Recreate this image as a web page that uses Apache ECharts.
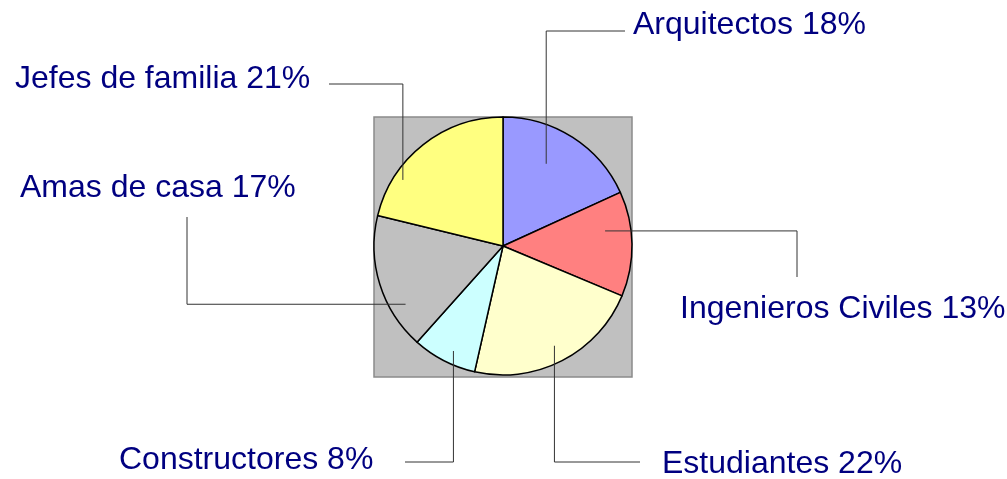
<!DOCTYPE html>
<html>
<head>
<meta charset="utf-8">
<script src="https://cdn.jsdelivr.net/npm/echarts@6/dist/echarts.min.js"></script>
<style>
  html, body { margin: 0; padding: 0; background: #ffffff; }
  #chart { width: 1007px; height: 479px; }
</style>
</head>
<body>
<div id="chart"></div>
<script>
// ---- data ----
const categories = ['Arquitectos', 'Ingenieros Civiles', 'Estudiantes', 'Constructores', 'Amas de casa', 'Jefes de familia'];
const percents   = [18, 13, 22, 8, 17, 21];
const sliceColors = ['#9999FF', '#FF8080', '#FFFFCC', '#CCFFFF', '#C0C0C0', '#FFFF80'];

// ---- layout (label boxes and leader lines) ----
const CX = 503, CY = 246, R = 129;
// label left x, label middle y, leader end point, first-segment direction,
// leader anchor angle shift (deg, clockwise) and radius ratio
const labelLayoutCfg = [
  { x: 633, y: 25,  ex: 625, ey: 31,  dir: 'v', shift: -5,   k: 0.72 },
  { x: 680, y: 309, ex: 797, ey: 277, dir: 'h', shift: -7.5, k: 0.80 },
  { x: 662, y: 464, ex: 640, ey: 462, dir: 'v', shift: 0,    k: 0.87 },
  { x: 119, y: 460, ex: 405, ey: 462, dir: 'v', shift: -2,   k: 0.90 },
  { x: 20,  y: 188, ex: 187, ey: 217, dir: 'h', shift: -13.6,k: 0.88 },
  { x: 15,  y: 79,  ex: 329, ey: 84,  dir: 'v', shift: -18.4,k: 0.93 }
];

const chart = echarts.init(document.getElementById('chart'), null, { renderer: 'canvas' });

const baseSeries = {
  type: 'pie',
  center: [CX, CY],
  radius: R,
  startAngle: 90,
  clockwise: true,
  avoidLabelOverlap: false,
  emphasis: { disabled: true }
};

const option = {
  backgroundColor: '#ffffff',
  animation: false,
  graphic: [{
    type: 'rect',
    z: -10,
    shape: { x: 374, y: 117, width: 258, height: 260 },
    style: { fill: '#C0C0C0', stroke: '#8a8a8a', lineWidth: 1.5 }
  }],
  series: [
    Object.assign({}, baseSeries, {
      z: 2,
      data: categories.map((c, i) => ({
        name: c,
        value: percents[i],
        itemStyle: { color: sliceColors[i] }
      })),
      itemStyle: { borderColor: '#000000', borderWidth: 1.5 },
      label: { show: false },
      labelLine: { show: false }
    }),
    Object.assign({}, baseSeries, {
      z: 5,
      silent: true,
      data: categories.map((c, i) => ({ name: c, value: percents[i] })),
      itemStyle: { color: 'rgba(0,0,0,0)', borderWidth: 0 },
      label: {
        show: true,
        position: 'outside',
        formatter: p => p.name + ' ' + p.value + '%',
        fontFamily: '"Liberation Sans", Arial, sans-serif',
        fontSize: 32,
        color: '#000080'
      },
      labelLine: {
        show: true,
        smooth: false,
        length: 10,
        length2: 10,
        lineStyle: { color: '#333333', width: 1 }
      },
      labelLayout: function (params) {
        const cfg = labelLayoutCfg[params.dataIndex];
        const pts = params.labelLinePoints;
        // mid-angle of the slice from the library's own leader start point
        let ang = Math.atan2(pts[0][1] - CY, pts[0][0] - CX);
        ang += cfg.shift * Math.PI / 180;
        const ax = CX + Math.cos(ang) * R * cfg.k;
        const ay = CY + Math.sin(ang) * R * cfg.k;
        const elbow = cfg.dir === 'v' ? [ax, cfg.ey] : [cfg.ex, ay];
        return {
          x: cfg.x,
          y: cfg.y,
          align: 'left',
          verticalAlign: 'middle',
          labelLinePoints: [[ax, ay], elbow, [cfg.ex, cfg.ey]]
        };
      }
    })
  ]
};

chart.setOption(option);
</script>
</body>
</html>
